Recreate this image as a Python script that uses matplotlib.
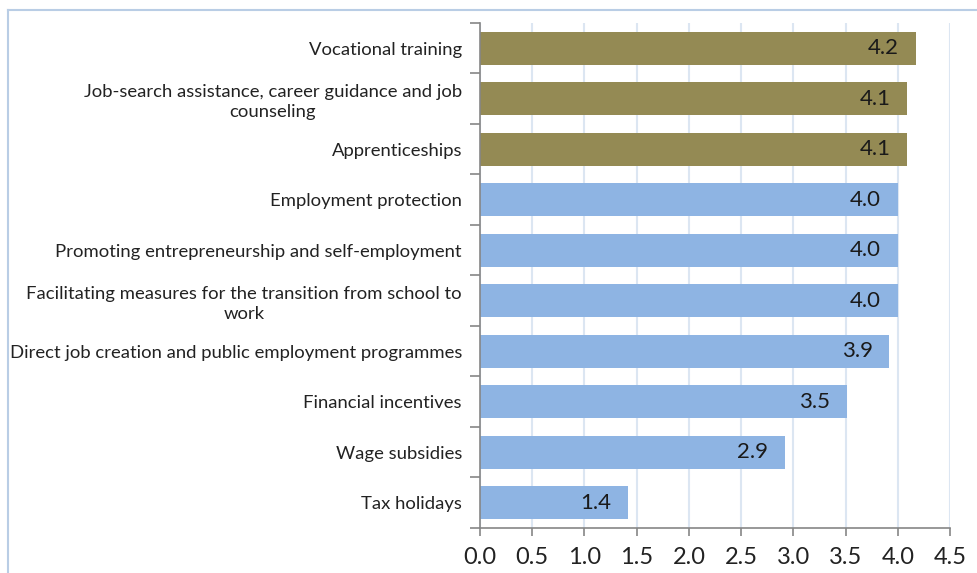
import matplotlib
matplotlib.use("Agg")
from matplotlib import pyplot as plt
from matplotlib.lines import Line2D
import numpy as np

plt.rcParams['font.family'] = ['Lato', 'DejaVu Sans']

# data (top to bottom)
categories = [
    "Vocational training",
    "Job-search assistance, career guidance and job\ncounseling",
    "Apprenticeships",
    "Employment protection",
    "Promoting entrepreneurship and self-employment",
    "Facilitating measures for the transition from school to\nwork",
    "Direct job creation and public employment programmes",
    "Financial incentives",
    "Wage subsidies",
    "Tax holidays",
]
values = [4.17, 4.09, 4.09, 4.0, 4.0, 4.0, 3.92, 3.51, 2.92, 1.42]
labels = ["4.2", "4.1", "4.1", "4.0", "4.0", "4.0", "3.9", "3.5", "2.9", "1.4"]
highlight = [True, True, True, False, False, False, False, False, False, False]

olive = "#948a54"
blue = "#8eb4e3"
colors = [olive if h else blue for h in highlight]

fig = plt.figure(figsize=(9.77, 5.73), dpi=100)
ax = fig.add_axes([480 / 977, 1 - 528 / 573, 470 / 977, 505 / 573])

y = np.arange(len(categories))
ax.barh(y, values, height=0.65, color=colors, zorder=2)
ax.set_ylim(len(categories) - 0.5, -0.5)
ax.set_xlim(0, 4.5)

# bar labels
for yi, v, lab in zip(y, values, labels):
    ax.text(v - 0.16, yi, lab, ha='right', va='center', fontsize=16,
            color='#1a1a1a', zorder=3)

# grid
ax.set_xticks(np.arange(0, 4.51, 0.5))
ax.set_xticklabels([f"{t:.1f}" for t in np.arange(0, 4.51, 0.5)], fontsize=17,
                   color='#222222')
ax.xaxis.grid(True, color='#dce6f2', linewidth=1.5, zorder=0)
ax.set_axisbelow(True)

# y axis: labels on categories, tick marks at boundaries
ax.set_yticks(y)
ax.set_yticklabels(categories, fontsize=13.3, color='#222222',
                   multialignment='center', linespacing=1.3)
ax.tick_params(axis='y', which='major', length=0, pad=13)
ax.set_yticks(np.arange(-0.5, len(categories), 1.0), minor=True)
ax.tick_params(axis='y', which='minor', length=7, color='#868686', width=1.2)
ax.tick_params(axis='x', length=6, color='#868686', width=1.2, pad=8)

for s in ['top', 'right']:
    ax.spines[s].set_visible(False)
for s in ['left', 'bottom']:
    ax.spines[s].set_color('#868686')
    ax.spines[s].set_linewidth(1.2)

# outer chart frame
fig.add_artist(Line2D([7.5 / 977, 7.5 / 977], [0, 1 - 9.5 / 573],
                      transform=fig.transFigure, color='#b9cde5', lw=1.5))
fig.add_artist(Line2D([7.5 / 977, 1], [1 - 9.5 / 573, 1 - 9.5 / 573],
                      transform=fig.transFigure, color='#b9cde5', lw=1.5))

fig.savefig("out.png", dpi=100)
